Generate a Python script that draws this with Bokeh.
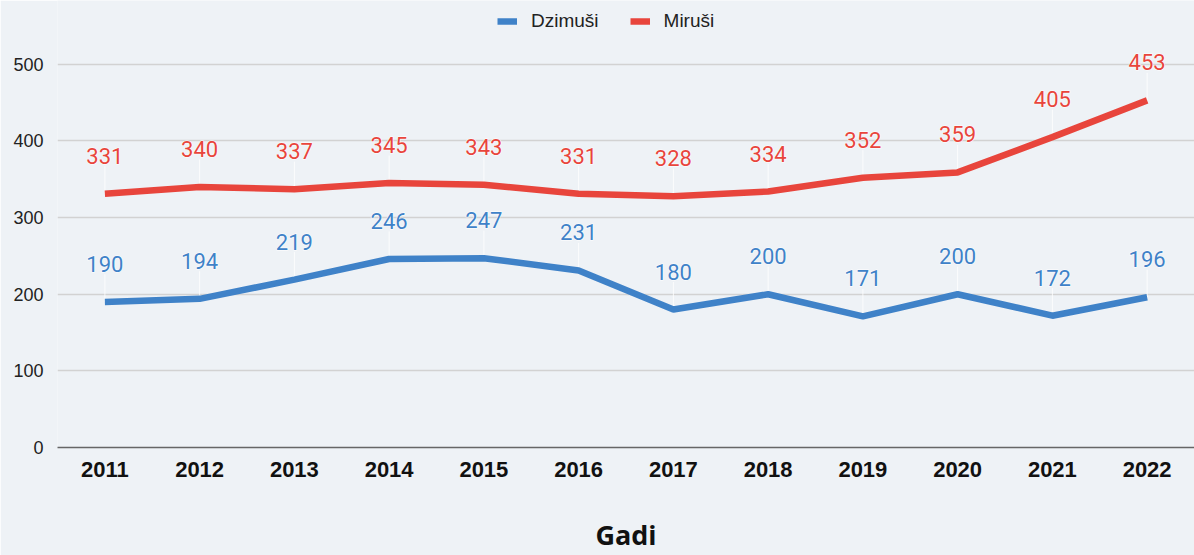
from bokeh.plotting import figure
from bokeh.models import ColumnDataSource, FixedTicker, Legend, LegendItem, Range1d
from bokeh.core.properties import value
from bokeh.embed import file_html
from bokeh.resources import INLINE

years = ["2011", "2012", "2013", "2014", "2015", "2016", "2017", "2018", "2019", "2020", "2021", "2022"]
dzimusi = [190, 194, 219, 246, 247, 231, 180, 200, 171, 200, 172, 196]
mirusi = [331, 340, 337, 345, 343, 331, 328, 334, 352, 359, 405, 453]
y_ticks = [0, 100, 200, 300, 400, 500]

BG = "#eef2f6"
BLUE = "#3f82c8"
RED = "#e8453c"

p = figure(x_range=years, y_range=Range1d(0, 583.3), width=1194, height=555,
           output_backend="svg", toolbar_location=None,
           min_border_left=57, min_border_right=0, min_border_top=0, min_border_bottom=107)
p.background_fill_color = BG
p.border_fill_color = BG
p.outline_line_color = None

src_d = ColumnDataSource(dict(x=years, y=dzimusi, t=[str(v) for v in dzimusi],
                              ytop=[v + 36 for v in dzimusi]))
src_m = ColumnDataSource(dict(x=years, y=mirusi, t=[str(v) for v in mirusi],
                              ytop=[v + 36 for v in mirusi]))

# faint connectors
for s in (src_d, src_m):
    p.segment(x0="x", y0="y", x1="x", y1="ytop", source=s, line_color="white", line_alpha=0.8, line_width=1)

rd = p.line("x", "y", source=src_d, line_color=BLUE, line_width=6.5, line_cap="butt")
rm = p.line("x", "y", source=src_m, line_color=RED, line_width=6.5, line_cap="butt")

for s, c in ((src_d, BLUE), (src_m, RED)):
    # white halo underneath
    p.text(x="x", y="y", text="t", source=s, y_offset=-38, text_align="center",
           text_baseline="middle", text_font=value("Roboto"), text_font_size="22px",
           text_color="white", text_outline_color="white")
    p.text(x="x", y="y", text="t", source=s, y_offset=-38, text_align="center",
           text_baseline="middle", text_font=value("Roboto"), text_font_size="22px",
           text_color=c)

p.xgrid.visible = False
p.ygrid.grid_line_color = "#d2d2d2"
p.ygrid.grid_line_width = 1.5

p.yaxis.ticker = FixedTicker(ticks=y_ticks)
p.yaxis.axis_line_color = None
p.yaxis.major_tick_line_color = None
p.yaxis.minor_tick_line_color = None
p.yaxis.major_tick_out = 0
p.yaxis.minor_tick_out = 0
p.yaxis.major_label_text_font = "Liberation Sans"
p.yaxis.major_label_text_font_size = "18px"
p.yaxis.major_label_text_color = "#222222"
p.yaxis.major_label_standoff = 14

p.xaxis.axis_line_color = "#666666"
p.xaxis.axis_line_width = 1.5
p.xaxis.major_tick_line_color = None
p.xaxis.major_tick_out = 0
p.xaxis.minor_tick_out = 0
p.xaxis.major_label_text_font = "Liberation Sans"
p.xaxis.major_label_text_font_size = "22px"
p.xaxis.major_label_text_font_style = "bold"
p.xaxis.major_label_text_color = "#111111"
p.xaxis.major_label_standoff = 14
p.xaxis.axis_label = "Gadi"
p.xaxis.axis_label_text_font = "Open Sans"
p.xaxis.axis_label_text_font_size = "27px"
p.xaxis.axis_label_text_font_style = "bold"
p.xaxis.axis_label_text_color = "#111111"
p.xaxis.axis_label_standoff = 36

legend = Legend(items=[LegendItem(label="Dzimuši", renderers=[rd]),
                       LegendItem(label="Miruši", renderers=[rm])],
                orientation="horizontal", location=(440, 415),
                background_fill_alpha=0, border_line_color=None,
                label_text_font="Liberation Sans", label_text_font_size="19px",
                label_text_color="#222222", glyph_width=20, label_standoff=14,
                spacing=31, padding=0, margin=0)
p.add_layout(legend)

html = file_html(p, INLINE)
html = html.replace("<body>", '<body style="background:%s">' % BG, 1)
open("out.html", "w").write(html)
